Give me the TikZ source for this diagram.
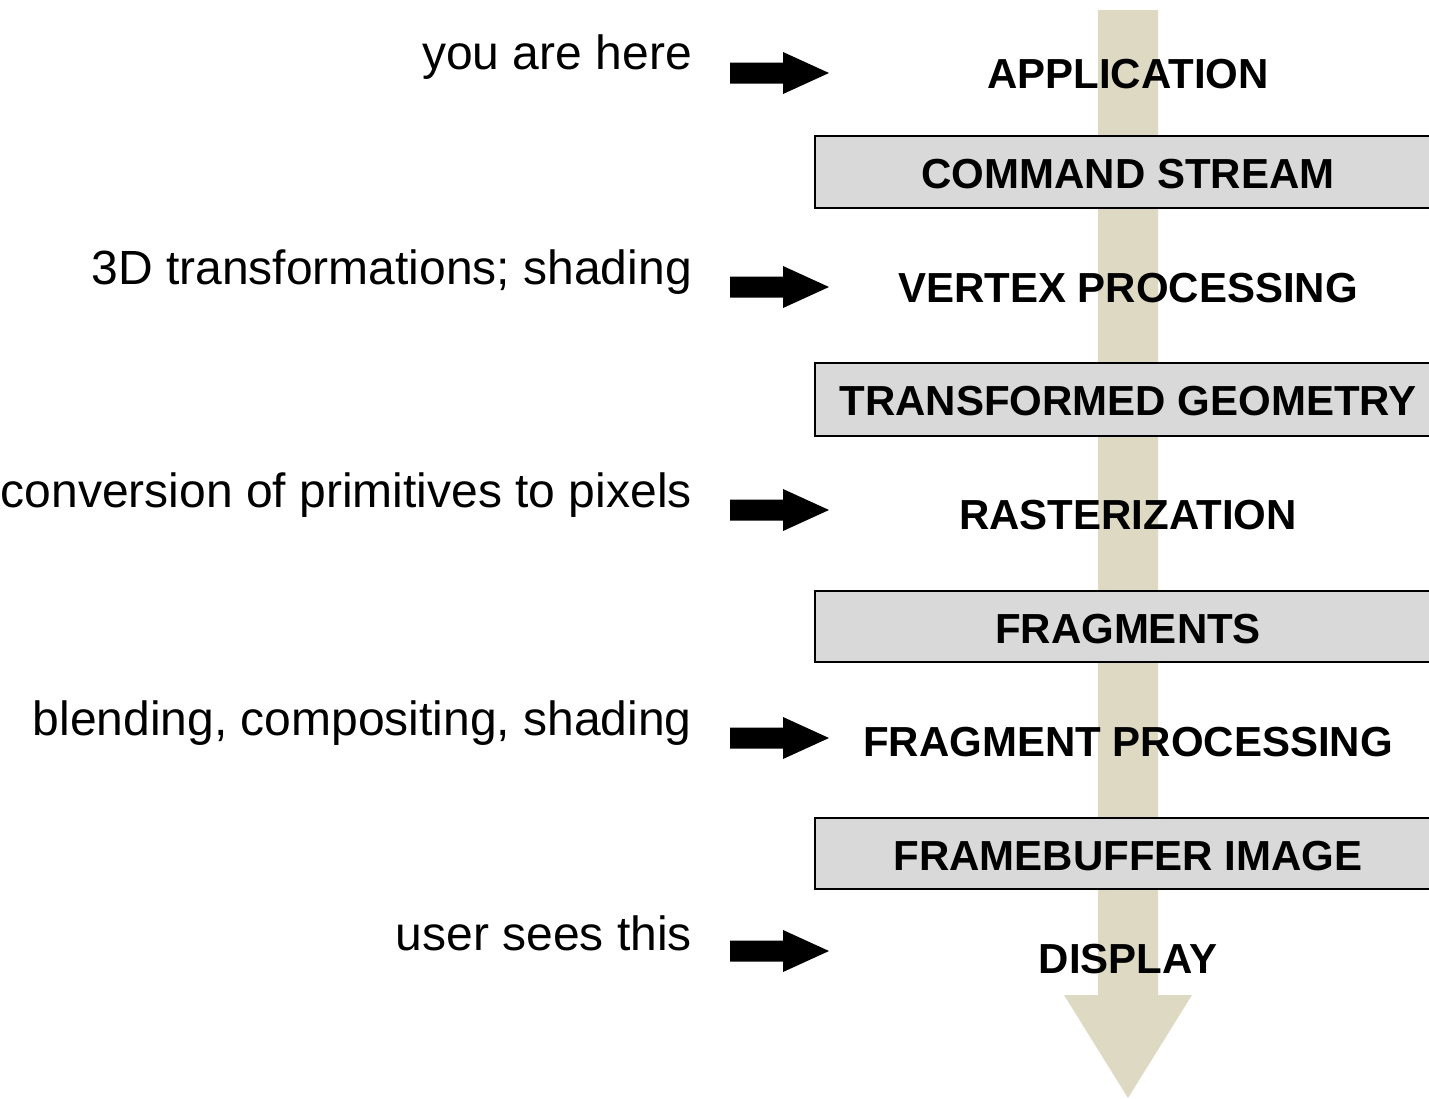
\documentclass[tikz,border=0pt]{standalone}
\usepackage{fontspec}
\setmainfont{Liberation Sans}
\definecolor{tan}{HTML}{DDD9C3}
\definecolor{boxgray}{HTML}{D9D9D9}
\begin{document}
\begin{tikzpicture}[x=1pt,y=-1pt,
  note/.style={anchor=base east,inner sep=0pt,font=\fontsize{48}{58}\selectfont},
  stage/.style={anchor=base,inner sep=0pt,font=\fontsize{42}{50}\selectfont\bfseries},
  databox/.style={draw=black,line width=2pt,fill=boxgray},
  pointer/.style={fill=black}]
\useasboundingbox (0,0) rectangle (1429,1098);
\clip (0,0) rectangle (1429,1098);
% big pipeline arrow
\fill[tan] (1098,10) -- (1158,10) -- (1158,995) -- (1192,995) -- (1128,1098) -- (1064,995) -- (1098,995) -- cycle;
% data boxes
\draw[databox] (815,136) rectangle (1445,208);
\draw[databox] (815,363) rectangle (1445,436);
\draw[databox] (815,591) rectangle (1445,662);
\draw[databox] (815,818) rectangle (1445,889);
\node[stage] (cs) at (1128,188) {COMMAND STREAM};
\node[stage] (tg) at (1128,415) {TRANSFORMED GEOMETRY};
\node[stage] (fr) at (1128,643) {FRAGMENTS};
\node[stage] (fb) at (1128,870) {FRAMEBUFFER IMAGE};
% stages
\node[stage] (app) at (1128,88) {APPLICATION};
\node[stage] (vp) at (1128,302) {VERTEX PROCESSING};
\node[stage] (ras) at (1128,529) {RASTERIZATION};
\node[stage] (fp) at (1128,756) {FRAGMENT PROCESSING};
\node[stage] (disp) at (1128,973) {DISPLAY};
% notes
\node[note] (n1) at (692,69) {you are here};
\node[note] (n2) at (692,284) {3D transformations; shading};
\node[note] (n3) at (692,507) {conversion of primitives to pixels};
\node[note] (n4) at (692,735) {blending, compositing, shading};
\node[note] (n5) at (692,950) {user sees this};
% pointer arrows
\foreach \yy/\nm in {73/a1,287/a2,510/a3,738/a4,951/a5}{
  \coordinate (\nm) at (730,\yy);
  \fill[pointer] (\nm) ++(0,-10.5) -- ++(53,0) -- ++(0,-10.5) -- ++(46,21) -- ++(-46,21) -- ++(0,-10.5) -- ++(-53,0) -- cycle;
}
\end{tikzpicture}
\end{document}
